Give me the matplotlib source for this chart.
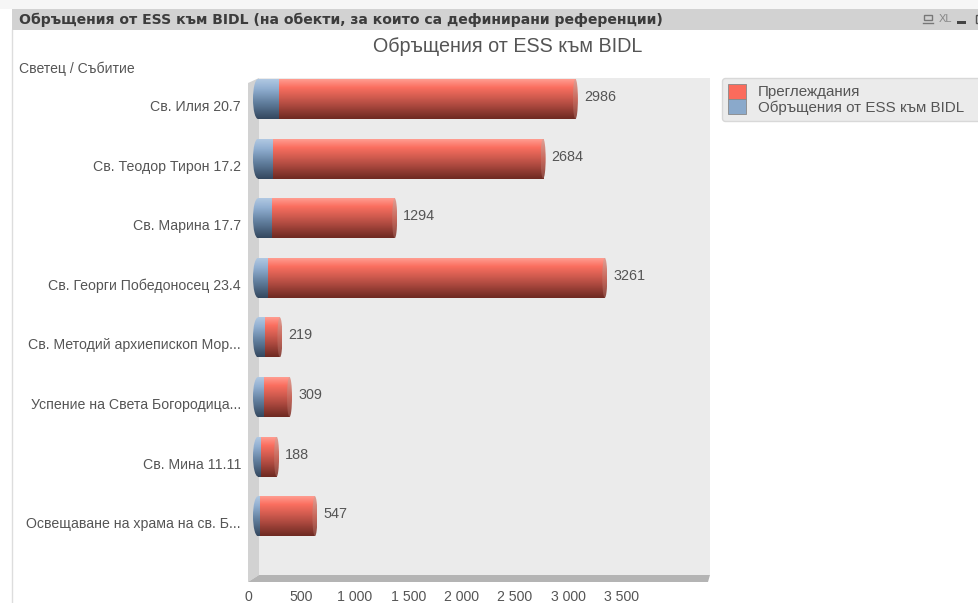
import numpy as np
import matplotlib
matplotlib.use("Agg")
import matplotlib.pyplot as plt
from matplotlib.patches import Ellipse, Patch, Polygon, Rectangle
from matplotlib.colors import LinearSegmentedColormap
from matplotlib.transforms import ScaledTranslation

plt.rcParams['font.family'] = ['Liberation Sans', 'DejaVu Sans']

# data
categories = ["Св. Илия 20.7", "Св. Теодор Тирон 17.2", "Св. Марина 17.7",
              "Св. Георги Победоносец 23.4", "Св. Методий архиепископ Мор...",
              "Успение на Света Богородица...", "Св. Мина 11.11",
              "Освещаване на храма на св. Б..."]
totals = [2986, 2684, 1294, 3261, 219, 309, 188, 547]
ess_values = [197, 140, 131, 94, 66, 56, 28, 19]
x_ticks = [0, 500, 1000, 1500, 2000, 2500, 3000, 3500]
x_tick_labels = ["0", "500", "1 000", "1 500", "2 000", "2 500", "3 000", "3 500"]

W, H = 979, 603
TXT = '#555555'
red_cmap = LinearSegmentedColormap.from_list(
    'r', [(0, '#ff9c90'), (0.2, '#fb6f60'), (0.55, '#c05348'), (1, '#6e2a22')])
blue_cmap = LinearSegmentedColormap.from_list(
    'b', [(0, '#b0c8e2'), (0.25, '#8fadcf'), (0.6, '#607d9c'), (1, '#34485f')])
cap_cmap = LinearSegmentedColormap.from_list('c', ['#e0a095', '#c8685c', '#8a4a42'])
grad = np.linspace(0, 1, 64).reshape(-1, 1)

fig = plt.figure(figsize=(W / 100, H / 100), dpi=100, facecolor='white')


def px_axes(left, top, right, bottom, **kw):
    return fig.add_axes([left / W, 1 - bottom / H, (right - left) / W, (bottom - top) / H], **kw)


# window frame, drawn in pixel coordinates
bg = px_axes(0, 0, W, H)
bg.set_xlim(0, W)
bg.set_ylim(H, 0)
bg.axis('off')
bg.add_patch(Rectangle((0, 0), W, 9, color='#f6f6f6', lw=0))
bg.add_patch(Rectangle((12, 9), W - 12, 21, color='#d2d2d2', lw=0))
bg.plot([12.5, 12.5], [30, H], color='#dddddd', lw=1)
bg.text(19, 20, "Обръщения от ESS към BIDL (на обекти, за които са дефинирани референции)",
        family='DejaVu Sans', fontsize=10.08, fontweight='bold', color='#3c3c3c', va='center')
# small window icons
bg.add_patch(Rectangle((924, 15), 8, 5, fc='none', ec='#777777', lw=1))
bg.plot([923, 933], [23, 23], color='#777777', lw=1)
bg.text(945.5, 19, "XL", fontsize=8, color='#888888', va='center', ha='center')
bg.add_patch(Rectangle((957, 21), 9, 2.5, color='#444444', lw=0))
bg.add_patch(Rectangle((976, 15), 6, 8, fc='none', ec='#555555', lw=1))
bg.text(507.5, 47, "Обръщения от ESS към BIDL", fontsize=14.2, color=TXT, ha='center', va='center')
bg.text(19, 69, "Светец / Събитие", fontsize=10.1, color=TXT, va='center')

# 3d look: back wall, left wall and floor
bg.add_patch(Rectangle((259, 78), 451, 497, color='#ebebeb', lw=0))
bg.add_patch(Polygon([(248, 83), (259, 78), (259, 575), (248, 582)], color='#d2d2d2', lw=0))
bg.add_patch(Polygon([(248, 582), (259, 575), (710, 575), (708, 582)], color='#b4b4b4', lw=0))

# chart axes: value 0 sits on the back wall, ticks are on the front edge
ax = px_axes(248, 78, 710, 582)
ax.patch.set_alpha(0)
PX = 0.1068  # pixels per unit
for s in ax.spines.values():
    s.set_visible(False)

bar_h = 0.67
cap = 5 / PX
end_cap = 2.5 / PX
for i, (tot, ess) in enumerate(zip(totals, ess_values)):
    y0, y1 = i - bar_h / 2, i + bar_h / 2
    end = tot - 1.5 / PX
    # left cap
    clip = Ellipse((0, i), 2 * cap, bar_h, transform=ax.transData)
    im = ax.imshow(grad, cmap=blue_cmap, extent=(-cap, 0, y1, y0), aspect='auto', zorder=3)
    im.set_clip_path(clip)
    ax.imshow(grad, cmap=blue_cmap, extent=(0, ess, y1, y0), aspect='auto', zorder=3)
    ax.imshow(grad, cmap=red_cmap, extent=(ess, end, y1, y0), aspect='auto', zorder=3)
    # right cap
    clip = Ellipse((end, i), 2 * end_cap, bar_h, transform=ax.transData)
    im = ax.imshow(grad, cmap=cap_cmap, extent=(end - end_cap, end + end_cap, y1, y0),
                   aspect='auto', zorder=4)
    im.set_clip_path(clip)
    ax.annotate(str(tot), (tot, i), xytext=(7, 2), textcoords='offset pixels',
                fontsize=10.4, color=TXT, va='center', zorder=5)

ax.set_xlim(-10 / PX, (710 - 258) / PX)
ax.set_ylim((582 - 99) / 59.6, -(99 - 78) / 59.6)

ax.set_yticks(range(len(categories)))
ax.set_yticklabels(categories, fontsize=10.2, color=TXT)
ax.set_xticks(x_ticks)
ax.set_xticklabels(x_tick_labels, fontsize=10.2, color=TXT)
ax.tick_params(length=0, axis='both')
ax.tick_params(axis='y', pad=5)
ax.tick_params(axis='x', pad=6)
shift = ScaledTranslation(-10 / 100, 0, fig.dpi_scale_trans)
for lab in ax.get_xticklabels():
    lab.set_transform(lab.get_transform() + shift)
shift_y = ScaledTranslation(0, -6.5 / 100, fig.dpi_scale_trans)
for lab in ax.get_yticklabels():
    lab.set_transform(lab.get_transform() + shift_y)

handles = [Patch(fc='#fb6b5c', ec='#888888', lw=0.6), Patch(fc='#8aa9cb', ec='#888888', lw=0.6)]
fig.legend(handles, ["Преглеждания", "Обръщения от ESS към BIDL"],
           loc='upper left', bbox_to_anchor=(722 / W, 1 - 122 / H, 265 / W, 44 / H), mode='expand',
           borderaxespad=0, fontsize=10.9, labelcolor=TXT, frameon=True, fancybox=True,
           facecolor='#ebebeb', edgecolor='#d8d8d8', framealpha=1, handlelength=1.2,
           handleheight=1.1, handletextpad=0.75, labelspacing=0, borderpad=0.4)

fig.savefig("out.png", dpi=100)
